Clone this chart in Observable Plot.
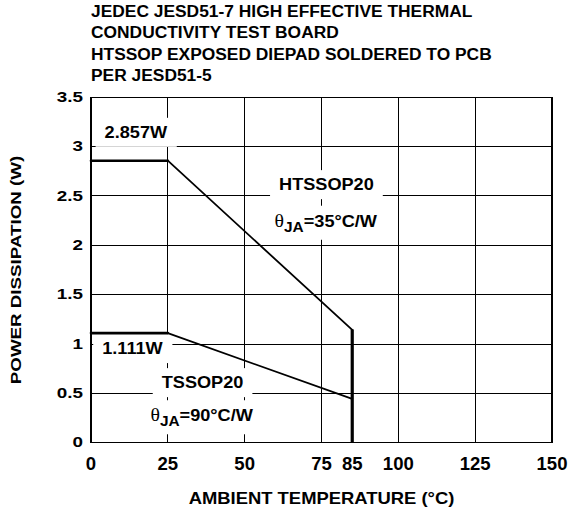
<!DOCTYPE html>
<html><head><meta charset="utf-8">
<script src="https://cdn.jsdelivr.net/npm/d3@7"></script>
<script src="https://cdn.jsdelivr.net/npm/@observablehq/plot@0.6"></script>
<style>
html,body{margin:0;padding:0;background:#fff;}
body{width:568px;height:514px;overflow:hidden;font-family:"Liberation Sans",Arial,sans-serif;}
#title{position:relative;height:88px;}
#title .t{position:absolute;left:91px;top:1px;font-weight:bold;font-size:15.8px;line-height:21.3px;transform:scaleX(1.1);transform-origin:0 0;white-space:nowrap;color:#000;}
#chart svg{display:block;}
</style></head><body>
<div id="title"><div class="t"></div></div>
<div id="chart"></div>
<script>
// ---- data ----
const titleLines = [
  "JEDEC JESD51-7 HIGH EFFECTIVE THERMAL",
  "CONDUCTIVITY TEST BOARD",
  "HTSSOP EXPOSED DIEPAD SOLDERED TO PCB",
  "PER JESD51-5"
];
const temps = [0, 25, 85];
const htssopPower = [2.857, 2.857, 1.143];
const tssopPower = [1.111, 1.111, 0.444];
const cutoffTemp = 85;
const xTicks = [0, 25, 50, 75, 85, 100, 125, 150];
const yTicks = [0, 0.5, 1, 1.5, 2, 2.5, 3, 3.5];
const xGrid = [25, 50, 75, 100, 125];
const yGrid = [0.5, 1, 1.5, 2, 2.5, 3];
const annoText = ["2.857W", "1.111W", "HTSSOP20", "θJA=35°C/W", "TSSOP20", "θJA=90°C/W"];
const annoTemp = [14.6, 13.5, 76.6, 76.4, 36.3, 36.0];
const annoPower = [3.14, 0.95, 2.61, 2.24, 0.605, 0.27];
const xLabel = "AMBIENT TEMPERATURE (°C)";
const yLabel = "POWER DISSIPATION (W)";

// ---- title ----
const tdiv = document.querySelector("#title .t");
titleLines.forEach((l, i) => { if (i) tdiv.append(document.createElement("br")); tdiv.append(l); });

// ---- derived tables ----
const seg = (p, i, j, s) => [{t: temps[i], p: p[i], s}, {t: temps[j], p: p[j], s}];
const plateaus = [...seg(htssopPower, 0, 1, "H"), ...seg(tssopPower, 0, 1, "T")];
const slopes = [...seg(htssopPower, 1, 2, "H"), ...seg(tssopPower, 1, 2, "T")];
const cutoff = [{t: cutoffTemp, lo: 0, hi: htssopPower[2]}];
const annotations = annoText.map((label, i) => ({label, t: annoTemp[i], p: annoPower[i]}));

const FONT = '"Liberation Sans", Arial, sans-serif';
const chart = Plot.plot({
  width: 568, height: 426,
  marginLeft: 90.5, marginRight: 16.5, marginTop: 8.7, marginBottom: 71.7,
  style: {fontFamily: FONT, fontWeight: "bold", fontSize: "15px", color: "#000", background: "#fff", overflow: "visible"},
  x: {domain: [0, 150]},
  y: {domain: [0, 3.5]},
  marks: [
    Plot.ruleX(xGrid, {stroke: "#000", strokeWidth: 1, shapeRendering: "crispEdges"}),
    Plot.ruleY(yGrid, {stroke: "#000", strokeWidth: 1, shapeRendering: "crispEdges"}),
    Plot.frame({stroke: "#000", strokeWidth: 1.2, shapeRendering: "crispEdges"}),
    Plot.line(plateaus, {x: "t", y: "p", z: "s", stroke: "#000", strokeWidth: 2.6}),
    Plot.line(slopes, {x: "t", y: "p", z: "s", stroke: "#000", strokeWidth: 1.8}),
    Plot.ruleX(cutoff, {x: "t", y1: "lo", y2: "hi", stroke: "#000", strokeWidth: 3.2}),
    Plot.text(annotations, {x: "t", y: "p", text: "label", fontSize: 16.5, fill: "#000", textAnchor: "middle"}),
    Plot.axisX({ticks: xTicks, tickSize: 0, tickPadding: 15, tickFormat: d => `${d}`, fontSize: 17.5,
      label: xLabel, labelAnchor: "center", labelArrow: "none", labelOffset: 61}),
    Plot.axisY({ticks: yTicks, tickSize: 0, tickPadding: 8, tickFormat: d => `${d}`, fontSize: 14.5,
      label: yLabel, labelAnchor: "center", labelArrow: "none", labelOffset: 80.5})
  ]
});
document.getElementById("chart").append(chart);

// ---- post-processing: fonts, stretch, theta subscripts, label boxes ----
const ns = "http://www.w3.org/2000/svg";
function setSize(sel, size) { chart.querySelectorAll(sel).forEach(g => g.setAttribute("font-size", size)); }
setSize('g[aria-label="x-axis tick label"]', 17.5);
setSize('g[aria-label="y-axis tick label"]', 14.5);
setSize('g[aria-label="x-axis label"]', 16.3);
setSize('g[aria-label="y-axis label"]', 15);
function stretch(el, s) {
  const b = el.getBBox();
  const a = getComputedStyle(el).textAnchor;
  const cx = a === "end" ? b.x + b.width : a === "middle" ? b.x + b.width / 2 : b.x;
  const t = el.getAttribute("transform") || "";
  el.setAttribute("transform", `${t} translate(${cx},0) scale(${s},1) translate(${-cx},0)`);
}
const annoTexts = [...chart.querySelectorAll('g[aria-label="text"] text')];
annoTexts.forEach(t => {
  const s = t.textContent;
  if (s.startsWith("θ")) {
    t.textContent = "";
    const mk = (str, attrs) => { const ts = document.createElementNS(ns, "tspan"); ts.textContent = str; for (const k in attrs) ts.setAttribute(k, attrs[k]); t.append(ts); };
    mk("θ", {"font-family": '"Liberation Serif", serif', "font-weight": "normal", "font-size": "18"});
    mk("JA", {"font-size": "14", dy: "5"});
    mk(s.slice(3), {dy: "-5"});
  }
});
chart.querySelectorAll('g[aria-label="x-axis tick label"] text').forEach(t => stretch(t, 1.06));
chart.querySelectorAll('g[aria-label="y-axis tick label"] text').forEach(t => stretch(t, 1.3));
chart.querySelectorAll('g[aria-label="x-axis label"] text').forEach(t => stretch(t, 1.13));
chart.querySelectorAll('g[aria-label="y-axis label"] text').forEach(t => stretch(t, 1.25));
annoTexts.forEach(t => stretch(t, 1.1));
const sr = chart.getBoundingClientRect();
const boxG = document.createElementNS(ns, "g");
chart.insertBefore(boxG, chart.querySelector('g[aria-label="line"]'));
annoTexts.forEach(t => {
  const r = t.getBoundingClientRect();
  const rect = document.createElementNS(ns, "rect");
  rect.setAttribute("x", r.left - sr.left - 9);
  rect.setAttribute("y", r.top - sr.top - 5);
  rect.setAttribute("width", r.width + 18);
  rect.setAttribute("height", r.height + 10);
  rect.setAttribute("fill", "#fff");
  boxG.append(rect);
});
</script>
</body></html>
